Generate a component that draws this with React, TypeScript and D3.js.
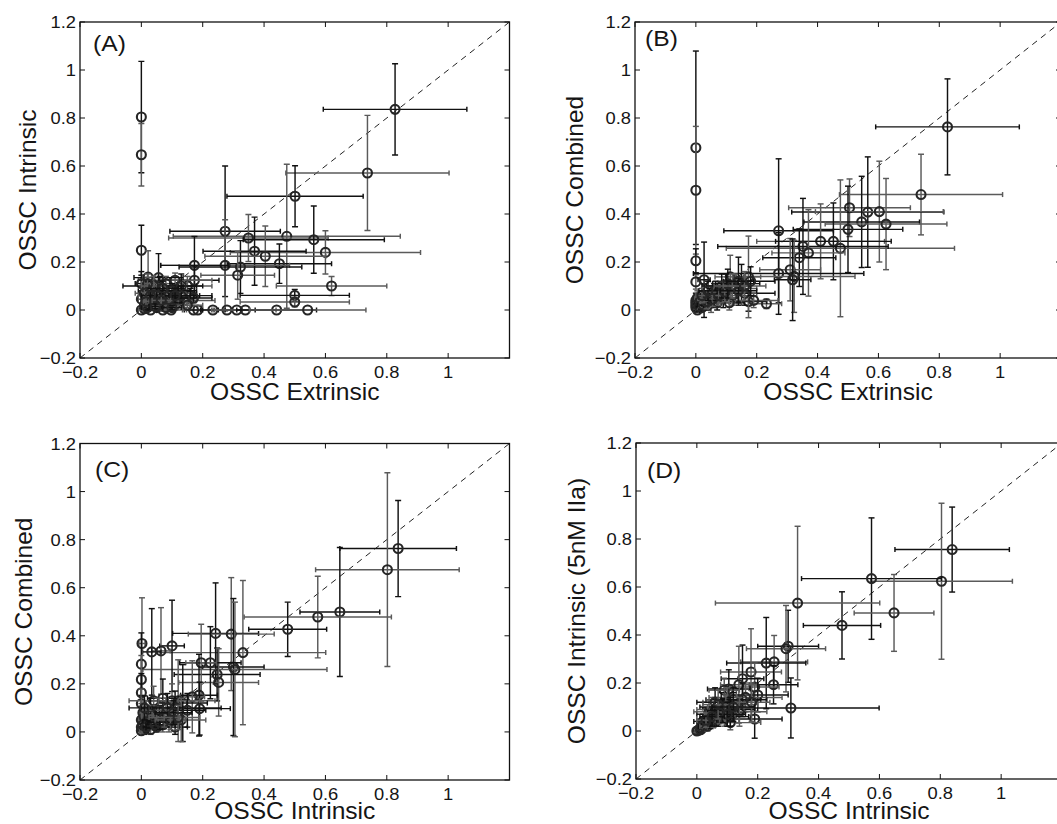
import * as d3 from "d3";

const W = 1057;
const H = 824;
const FONT = "'Liberation Sans', Arial, Helvetica, sans-serif";

const X_TICKS = [-0.2, 0, 0.2, 0.4, 0.6, 0.8, 1];
const Y_TICKS = [-0.2, 0, 0.2, 0.4, 0.6, 0.8, 1, 1.2];
const tickText = (v: number) => (v < 0 ? "\u22120.2" : d3.format("~g")(v));

const panelLetters = ["(A)", "(B)", "(C)", "(D)"];
const xTitles = ["OSSC Extrinsic", "OSSC Extrinsic", "OSSC Intrinsic", "OSSC Intrinsic"];
const yTitles = ["OSSC Intrinsic", "OSSC Combined", "OSSC Combined", "OSSC Intrinsic (5nM IIa)"];

// [x, y, xErr, yErr]
type Pt = [number, number, number, number];

const panelA: Pt[] = [
  [0, 0.804, 0, 0.232], [0, 0.647, 0, 0.13], [0.827, 0.836, 0.234, 0.19], [0.737, 0.571, 0.266, 0.24],
  [0.501, 0.474, 0.222, 0.127], [0.474, 0.307, 0.37, 0.3], [0.273, 0.328, 0.18, 0.272], [0.349, 0.3, 0.26, 0.098],
  [0.562, 0.293, 0.23, 0.14], [0.6, 0.24, 0.31, 0.09], [0.369, 0.245, 0.168, 0.142], [0.404, 0.224, 0.197, 0.126],
  [0.45, 0.193, 0.17, 0.082], [0.273, 0.186, 0.21, 0.19], [0.323, 0.179, 0.2, 0.11], [0.314, 0.145, 0.12, 0.1],
  [0.173, 0.186, 0.11, 0.12], [0.62, 0.1, 0.18, 0.04], [0.5, 0.061, 0.178, 0.025], [0.5, 0.033, 0.178, 0.02],
  [0, 0.249, 0, 0.104], [0.184, 0, 0.05, 0], [0.233, 0, 0.04, 0], [0.279, 0, 0.05, 0],
  [0.311, 0, 0.06, 0], [0.339, 0, 0.1, 0], [0.441, 0, 0.13, 0], [0.542, 0, 0.19, 0],
  [0.17, 0, 0.03, 0], [0.097, 0, 0.05, 0], [0.173, 0.124, 0.08, 0.06], [0.11, 0.124, 0.12, 0.03],
  [0.056, 0.135, 0.08, 0.1], [0.022, 0.137, 0.02, 0.11], [0, 0.11, 0.02, 0.05], [0, 0.045, 0.01, 0.03],
  [0.02, 0.08, 0.03, 0.04], [0.04, 0.06, 0.05, 0.03], [0.06, 0.05, 0.06, 0.03], [0.08, 0.07, 0.1, 0.04],
  [0.1, 0.05, 0.08, 0.03], [0.15, 0.1, 0.08, 0.04], [0.16, 0.06, 0.07, 0.03], [0.14, 0.04, 0.1, 0.03],
  [0.06, 0.1, 0.12, 0.04], [0.09, 0.03, 0.04, 0.02], [0.03, 0.02, 0.03, 0.02], [0.01, 0.005, 0.01, 0.01],
  [0.05, 0.01, 0.02, 0.01], [0.07, 0, 0.03, 0.005], [0.03, 0, 0.02, 0], [0, 0, 0.01, 0],
  [0.12, 0.08, 0.06, 0.03], [0.04, 0.03, 0.03, 0.02], [0.07, 0.03, 0.05, 0.02], [0.11, 0.02, 0.05, 0.02],
  [0.02, 0.05, 0.02, 0.03], [0.08, 0.11, 0.07, 0.03], [0.13, 0.1, 0.07, 0.05],
  [0.01, 0.02, 0.01, 0.01], [0.02, 0.01, 0.02, 0.01], [0.03, 0.04, 0.02, 0.02], [0.05, 0.03, 0.03, 0.02],
  [0.06, 0.02, 0.04, 0.01], [0.08, 0.04, 0.05, 0.02], [0.09, 0.06, 0.05, 0.03], [0.1, 0.08, 0.06, 0.03],
  [0.04, 0.1, 0.04, 0.04], [0.07, 0.09, 0.05, 0.03], [0.12, 0.04, 0.06, 0.02], [0.13, 0.06, 0.06, 0.03],
  [0.15, 0.02, 0.05, 0.01], [0.17, 0.05, 0.06, 0.02], [0.02, 0.11, 0.02, 0.04], [0.05, 0.06, 0.04, 0.03],
  [0.08, 0.01, 0.04, 0.01], [0.11, 0.06, 0.05, 0.03], [0.01, 0.07, 0.01, 0.03], [0.03, 0.06, 0.03, 0.03],
  [0.015, 0.035, 0.01, 0.02], [0.045, 0.015, 0.02, 0.01], [0.065, 0.04, 0.03, 0.02], [0.1, 0.01, 0.03, 0.01],
];

const panelB: Pt[] = [
  [0, 0.676, 0, 0.403], [0, 0.499, 0, 0.266], [0, 0.205, 0, 0.05], [0, 0.117, 0, 0.03],
  [0.827, 0.763, 0.236, 0.2], [0.74, 0.481, 0.268, 0.168], [0.272, 0.33, 0.18, 0.3], [0.505, 0.426, 0.2, 0.12],
  [0.565, 0.408, 0.25, 0.23], [0.603, 0.41, 0.21, 0.21], [0.545, 0.367, 0.19, 0.19], [0.625, 0.358, 0.2, 0.19],
  [0.5, 0.336, 0.18, 0.18], [0.41, 0.286, 0.21, 0.156], [0.452, 0.286, 0.19, 0.16], [0.475, 0.257, 0.375, 0.285],
  [0.352, 0.265, 0.28, 0.2], [0.37, 0.238, 0.12, 0.18], [0.34, 0.218, 0.12, 0.12], [0.31, 0.168, 0.1, 0.13],
  [0.272, 0.152, 0.28, 0.17], [0.323, 0.14, 0.2, 0.15], [0.318, 0.126, 0.06, 0.17], [0.232, 0.026, 0.05, 0.02],
  [0.173, 0.035, 0.06, 0.04], [0.173, 0.138, 0.04, 0.17], [0.027, 0.126, 0.02, 0.157], [0.113, 0.138, 0.05, 0.09],
  [0.15, 0.11, 0.06, 0.08], [0.13, 0.09, 0.07, 0.06], [0.1, 0.1, 0.08, 0.05], [0.08, 0.08, 0.06, 0.04],
  [0.06, 0.06, 0.05, 0.05], [0.05, 0.04, 0.04, 0.05], [0.09, 0.05, 0.05, 0.04], [0.12, 0.06, 0.08, 0.04],
  [0.16, 0.07, 0.1, 0.05], [0.19, 0.04, 0.08, 0.03], [0.04, 0.02, 0.03, 0.02], [0.02, 0.01, 0.02, 0.02],
  [0.01, 0.03, 0.01, 0.02], [0, 0.02, 0.01, 0.02], [0, 0.04, 0.01, 0.03], [0.03, 0.05, 0.03, 0.03],
  [0.07, 0.03, 0.04, 0.03], [0.11, 0.03, 0.04, 0.03], [0.005, 0, 0.01, 0.01], [0.02, 0.03, 0.02, 0.03],
  [0.14, 0.12, 0.05, 0.1],
  [0, 0.01, 0.005, 0.02], [0, 0.03, 0.005, 0.02], [0.005, 0.05, 0.01, 0.03], [0.01, 0.015, 0.01, 0.02],
  [0.015, 0.04, 0.015, 0.03], [0.025, 0.02, 0.02, 0.02], [0.035, 0.035, 0.02, 0.03], [0.045, 0.06, 0.03, 0.03],
  [0.055, 0.045, 0.04, 0.03], [0.065, 0.08, 0.04, 0.04], [0.075, 0.06, 0.04, 0.04], [0.085, 0.1, 0.05, 0.05],
  [0.095, 0.075, 0.06, 0.04], [0.105, 0.11, 0.05, 0.06], [0.12, 0.1, 0.06, 0.05], [0.14, 0.08, 0.06, 0.05],
  [0.16, 0.1, 0.07, 0.06], [0.18, 0.12, 0.08, 0.06], [0.02, 0.06, 0.02, 0.03], [0.04, 0.08, 0.03, 0.04],
];

const panelC: Pt[] = [
  [0.837, 0.763, 0.19, 0.2], [0.802, 0.675, 0.234, 0.403], [0.647, 0.499, 0.13, 0.268], [0.575, 0.478, 0.24, 0.17],
  [0.477, 0.427, 0.127, 0.113], [0.331, 0.33, 0.27, 0.3], [0.242, 0.41, 0.14, 0.21], [0.293, 0.407, 0.14, 0.235],
  [0.3, 0.27, 0.1, 0.285], [0.305, 0.26, 0.3, 0.28], [0.247, 0.239, 0.14, 0.11], [0.252, 0.206, 0.13, 0.14],
  [0.225, 0.288, 0.1, 0.15], [0.195, 0.288, 0.05, 0.16], [0.1, 0.358, 0.04, 0.19], [0.064, 0.337, 0.03, 0.18],
  [0.034, 0.333, 0.03, 0.18], [0.002, 0.368, 0.01, 0.19], [0, 0.282, 0, 0.13], [0, 0.218, 0, 0.1],
  [0, 0.163, 0, 0.08], [0, 0.118, 0, 0.06], [0.188, 0.153, 0.06, 0.17], [0.166, 0.146, 0.04, 0.15],
  [0.19, 0.097, 0.1, 0.11], [0.12, 0.13, 0.12, 0.17], [0.135, 0.12, 0.08, 0.16], [0.1, 0.13, 0.09, 0.07],
  [0.07, 0.14, 0.05, 0.08], [0.04, 0.13, 0.08, 0.06], [0.11, 0.1, 0.15, 0.07], [0.08, 0.08, 0.05, 0.06],
  [0.06, 0.06, 0.04, 0.05], [0.09, 0.04, 0.04, 0.04], [0.04, 0.05, 0.03, 0.04], [0.02, 0.03, 0.02, 0.03],
  [0.01, 0.01, 0.01, 0.02], [0, 0.05, 0.01, 0.03], [0, 0.02, 0.01, 0.02], [0.03, 0.01, 0.02, 0.02],
  [0.05, 0.02, 0.03, 0.02], [0.07, 0.03, 0.04, 0.03], [0.11, 0.02, 0.04, 0.03], [0.13, 0.05, 0.08, 0.09],
  [0.15, 0.09, 0.06, 0.07], [0.005, 0.08, 0.01, 0.04], [0.03, 0.09, 0.02, 0.05],
  [0, 0.005, 0.005, 0.01], [0.005, 0.03, 0.005, 0.02], [0.01, 0.06, 0.01, 0.03], [0.015, 0.02, 0.01, 0.02],
  [0.02, 0.07, 0.02, 0.04], [0.025, 0.045, 0.02, 0.03], [0.035, 0.07, 0.03, 0.04], [0.045, 0.03, 0.03, 0.02],
  [0.055, 0.09, 0.04, 0.05], [0.06, 0.04, 0.04, 0.03], [0.075, 0.06, 0.05, 0.04], [0.085, 0.1, 0.05, 0.06],
  [0.095, 0.05, 0.05, 0.04], [0.105, 0.08, 0.06, 0.05], [0.12, 0.06, 0.07, 0.05], [0.01, 0.1, 0.01, 0.05],
];

const panelD: Pt[] = [
  [0.839, 0.756, 0.188, 0.177], [0.804, 0.624, 0.233, 0.325], [0.574, 0.635, 0.23, 0.253], [0.648, 0.492, 0.131, 0.16],
  [0.477, 0.44, 0.127, 0.14], [0.331, 0.533, 0.27, 0.32], [0.3, 0.353, 0.1, 0.15], [0.293, 0.343, 0.13, 0.18],
  [0.309, 0.096, 0.29, 0.125], [0.254, 0.288, 0.11, 0.11], [0.228, 0.283, 0.13, 0.19], [0.178, 0.246, 0.1, 0.18],
  [0.19, 0.05, 0.09, 0.08], [0.11, 0.035, 0.1, 0.03], [0.252, 0.193, 0.08, 0.08], [0.19, 0.183, 0.08, 0.1],
  [0.15, 0.218, 0.07, 0.14], [0.138, 0.193, 0.06, 0.16], [0.105, 0.175, 0.07, 0.08], [0.09, 0.17, 0.05, 0.05],
  [0.2, 0.15, 0.1, 0.07], [0.16, 0.14, 0.12, 0.06], [0.12, 0.13, 0.09, 0.05], [0.1, 0.12, 0.08, 0.06],
  [0.08, 0.1, 0.07, 0.06], [0.06, 0.09, 0.06, 0.05], [0.05, 0.07, 0.05, 0.04], [0.04, 0.05, 0.04, 0.03],
  [0.03, 0.03, 0.03, 0.02], [0.02, 0.02, 0.02, 0.02], [0.01, 0.01, 0.01, 0.01], [0.005, 0.003, 0.01, 0.01],
  [0.07, 0.06, 0.05, 0.04], [0.09, 0.07, 0.06, 0.05], [0.11, 0.09, 0.08, 0.05], [0.13, 0.11, 0.07, 0.06],
  [0.15, 0.13, 0.08, 0.07], [0.14, 0.08, 0.09, 0.06], [0.11, 0.06, 0.06, 0.04], [0.04, 0.08, 0.05, 0.05],
  [0.06, 0.12, 0.06, 0.06], [0.18, 0.12, 0.06, 0.08], [0.02, 0.04, 0.03, 0.03],
  [0, 0, 0.005, 0.005], [0.012, 0.005, 0.01, 0.01], [0.018, 0.012, 0.015, 0.01], [0.025, 0.018, 0.02, 0.015],
  [0.035, 0.02, 0.025, 0.02], [0.045, 0.035, 0.03, 0.025], [0.055, 0.045, 0.04, 0.03], [0.065, 0.05, 0.04, 0.03],
  [0.075, 0.07, 0.05, 0.04], [0.085, 0.085, 0.05, 0.05], [0.095, 0.1, 0.06, 0.05], [0.1, 0.07, 0.06, 0.05],
  [0.03, 0.045, 0.03, 0.03], [0.05, 0.06, 0.04, 0.04], [0.07, 0.11, 0.05, 0.06], [0.12, 0.1, 0.07, 0.06],
];

const panelData = [panelA, panelB, panelC, panelD];

// plot boxes in page pixels, plus where the y title and panel letter sit
const LAYOUT = [
  { left: 80, right: 509.5, top: 22, bottom: 358, yTitleX: 36, letterDx: 13, letterDy: 29, xTitleDy: 41.5 },
  { left: 635, right: 1061, top: 22, bottom: 358, yTitleX: 583, letterDx: 10, letterDy: 24, xTitleDy: 41.5 },
  { left: 80, right: 509.5, top: 443.5, bottom: 780, yTitleX: 32, letterDx: 15, letterDy: 33, xTitleDy: 39 },
  { left: 636, right: 1062, top: 443, bottom: 779, yTitleX: 585, letterDx: 11, letterDy: 35, xTitleDy: 39.5 },
];

function SText({ x, y, size, anchor = "middle", sx = 1.08, rotate = 0, children }: any) {
  return (
    <text
      transform={`translate(${x},${y}) rotate(${rotate}) scale(${sx},1)`}
      textAnchor={anchor}
      fontSize={size}
      fontFamily={FONT}
      fill="#151515"
    >
      {children}
    </text>
  );
}

function Panel({ index }: { index: number }) {
  const box = LAYOUT[index];
  const data = panelData[index];
  const x = d3.scaleLinear().domain([-0.2, 1.2]).range([box.left, box.right]);
  const y = d3.scaleLinear().domain([-0.2, 1.2]).range([box.bottom, box.top]);
  const diag = d3.line<number>().x((v) => x(v)).y((v) => y(v))([-0.2, 1.2]) ?? "";
  const clipId = `clip-${index}`;
  const tick = 5;

  return (
    <g>
      <clipPath id={clipId}>
        <rect x={box.left} y={box.top} width={box.right - box.left} height={box.bottom - box.top} />
      </clipPath>
      <g clipPath={`url(#${clipId})`}>
        <path d={diag} fill="none" stroke="#222" strokeWidth={1} strokeDasharray="6 5" />
        {data.map(([px, py, ex, ey], i) => {
          const color = i % 2 === 0 ? "#111" : "#5a5a5a";
          const cx = x(px);
          const cy = y(py);
          return (
            <g key={i} stroke={color} strokeWidth={1.45} fill="none">
              {ey > 0 && (
                <>
                  <line x1={cx} x2={cx} y1={y(py - ey)} y2={y(py + ey)} />
                  <line x1={cx - 3} x2={cx + 3} y1={y(py - ey)} y2={y(py - ey)} />
                  <line x1={cx - 3} x2={cx + 3} y1={y(py + ey)} y2={y(py + ey)} />
                </>
              )}
              {ex > 0 && (
                <>
                  <line x1={x(px - ex)} x2={x(px + ex)} y1={cy} y2={cy} />
                  <line x1={x(px - ex)} x2={x(px - ex)} y1={cy - 2.5} y2={cy + 2.5} />
                  <line x1={x(px + ex)} x2={x(px + ex)} y1={cy - 2.5} y2={cy + 2.5} />
                </>
              )}
              <circle cx={cx} cy={cy} r={4.5} stroke="#262626" strokeWidth={2.1} />
            </g>
          );
        })}
      </g>

      <rect
        x={box.left}
        y={box.top}
        width={box.right - box.left}
        height={box.bottom - box.top}
        fill="none"
        stroke="#111"
        strokeWidth={1.3}
      />
      {X_TICKS.map((v) => (
        <g key={`x${v}`} stroke="#111" strokeWidth={1}>
          <line x1={x(v)} x2={x(v)} y1={box.bottom} y2={box.bottom - tick} />
          <line x1={x(v)} x2={x(v)} y1={box.top} y2={box.top + tick} />
        </g>
      ))}
      {Y_TICKS.map((v) => (
        <g key={`y${v}`} stroke="#111" strokeWidth={1}>
          <line x1={box.left} x2={box.left + tick} y1={y(v)} y2={y(v)} />
          <line x1={box.right} x2={box.right - tick} y1={y(v)} y2={y(v)} />
        </g>
      ))}
      {X_TICKS.map((v) => (
        <SText key={`xl${v}`} x={x(v)} y={box.bottom + 19.5} size={17}>
          {tickText(v)}
        </SText>
      ))}
      {Y_TICKS.map((v) => (
        <SText key={`yl${v}`} x={box.left - 4} y={y(v) + 6} size={17} anchor="end">
          {tickText(v)}
        </SText>
      ))}
      <SText x={(box.left + box.right) / 2} y={box.bottom + box.xTitleDy} size={23} sx={1.07}>
        {xTitles[index]}
      </SText>
      <SText x={box.yTitleX} y={(box.top + box.bottom) / 2} size={23} sx={1.07} rotate={-90}>
        {yTitles[index]}
      </SText>
      <SText x={box.left + box.letterDx} y={box.top + box.letterDy} size={22} sx={1.12} anchor="start">
        {panelLetters[index]}
      </SText>
    </g>
  );
}

export default function App() {
  return (
    <div style={{ position: "absolute", left: 0, top: 0, width: W, height: H, overflow: "hidden", background: "#fff" }}>
      <svg width={W} height={H} viewBox={`0 0 ${W} ${H}`} style={{ display: "block" }}>
        <rect width={W} height={H} fill="#fff" />
        {LAYOUT.map((_, i) => (
          <Panel key={i} index={i} />
        ))}
      </svg>
    </div>
  );
}
